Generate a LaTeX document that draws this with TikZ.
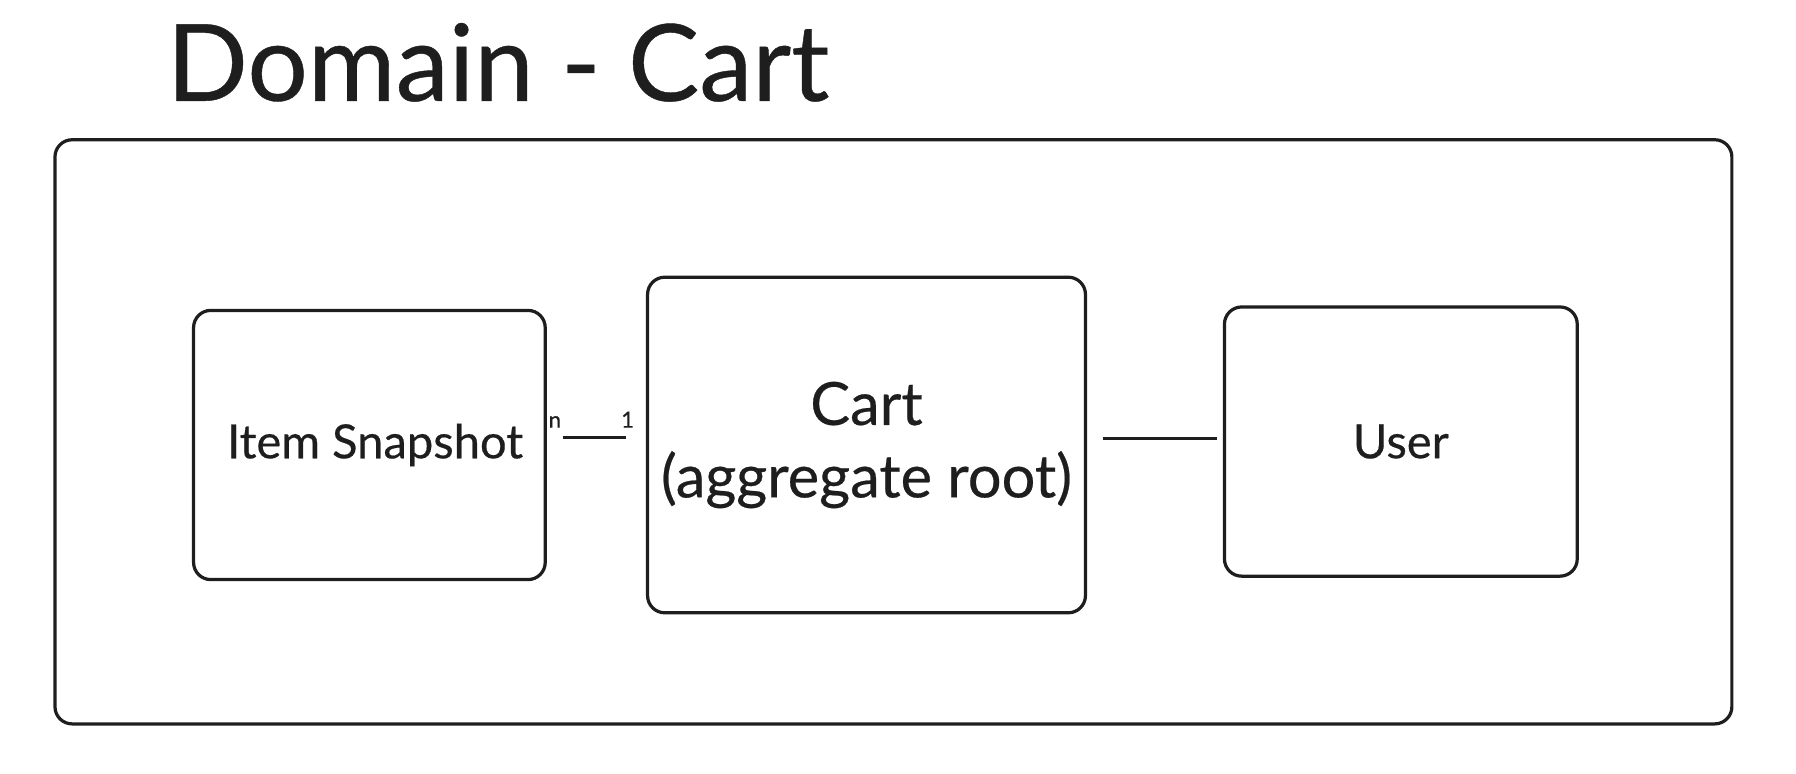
\documentclass[tikz,border=0pt]{standalone}
\usepackage{fontspec}
\setmainfont{Lato}[FakeBold=0.4]
\usetikzlibrary{positioning}
\definecolor{ink}{HTML}{1E1E1E}
\tikzset{
	entity/.style={draw=ink, line width=0.8pt, rounded corners=0.15cm, text=ink, align=center},
	link/.style={draw=ink, line width=0.8pt},
	mult/.style={text=ink, font=\fontsize{5.5}{6}\selectfont, inner sep=0pt}
}

\begin{document}
\begin{tikzpicture}
	\useasboundingbox (0,6.72) rectangle ++(15.68,-6.757);
	\node[anchor=base west, inner sep=0pt, text=ink, font=\fontsize{26.5}{30}\selectfont] (title) at (1.45,5.84) {Domain - Cart};
	\node[entity, minimum width=14.64cm, minimum height=5.10cm] (domain) at (7.80,2.95) {};
	\node[entity, minimum width=3.07cm, minimum height=2.35cm, font=\fontsize{11.7}{13}\selectfont] (item) at (3.225,2.835) {\hspace*{0.1cm}Item Snapshot};
	\node[entity, minimum width=3.81cm, minimum height=2.93cm, font=\fontsize{14.8}{18}\selectfont] (cart) at (7.565,2.835) {Cart\\(aggregate root)};
	\node[entity, minimum width=3.08cm, minimum height=2.35cm, font=\fontsize{11.7}{13}\selectfont] (user) at (12.23,2.865) {User};
	% item -- cart, n to 1
	\coordinate (itemR) at ([yshift=0.065cm]item.east);
	\coordinate (cartL) at (itemR -| cart.west);
	\draw[link, shorten <=0.14cm, shorten >=0.17cm] (itemR) -- (cartL);
	\node[mult, anchor=south] (n) at ([xshift=0.07cm, yshift=0.08cm]itemR) {n};
	\node[mult, anchor=south] (one) at ([xshift=-0.16cm, yshift=0.08cm]cartL) {1};
	% cart -- user
	\coordinate (cartR) at ([yshift=0.055cm]cart.east);
	\coordinate (userL) at (cartR -| user.west);
	\draw[link, shorten <=0.14cm, shorten >=0.05cm] (cartR) -- (userL);
\end{tikzpicture}
\end{document}
